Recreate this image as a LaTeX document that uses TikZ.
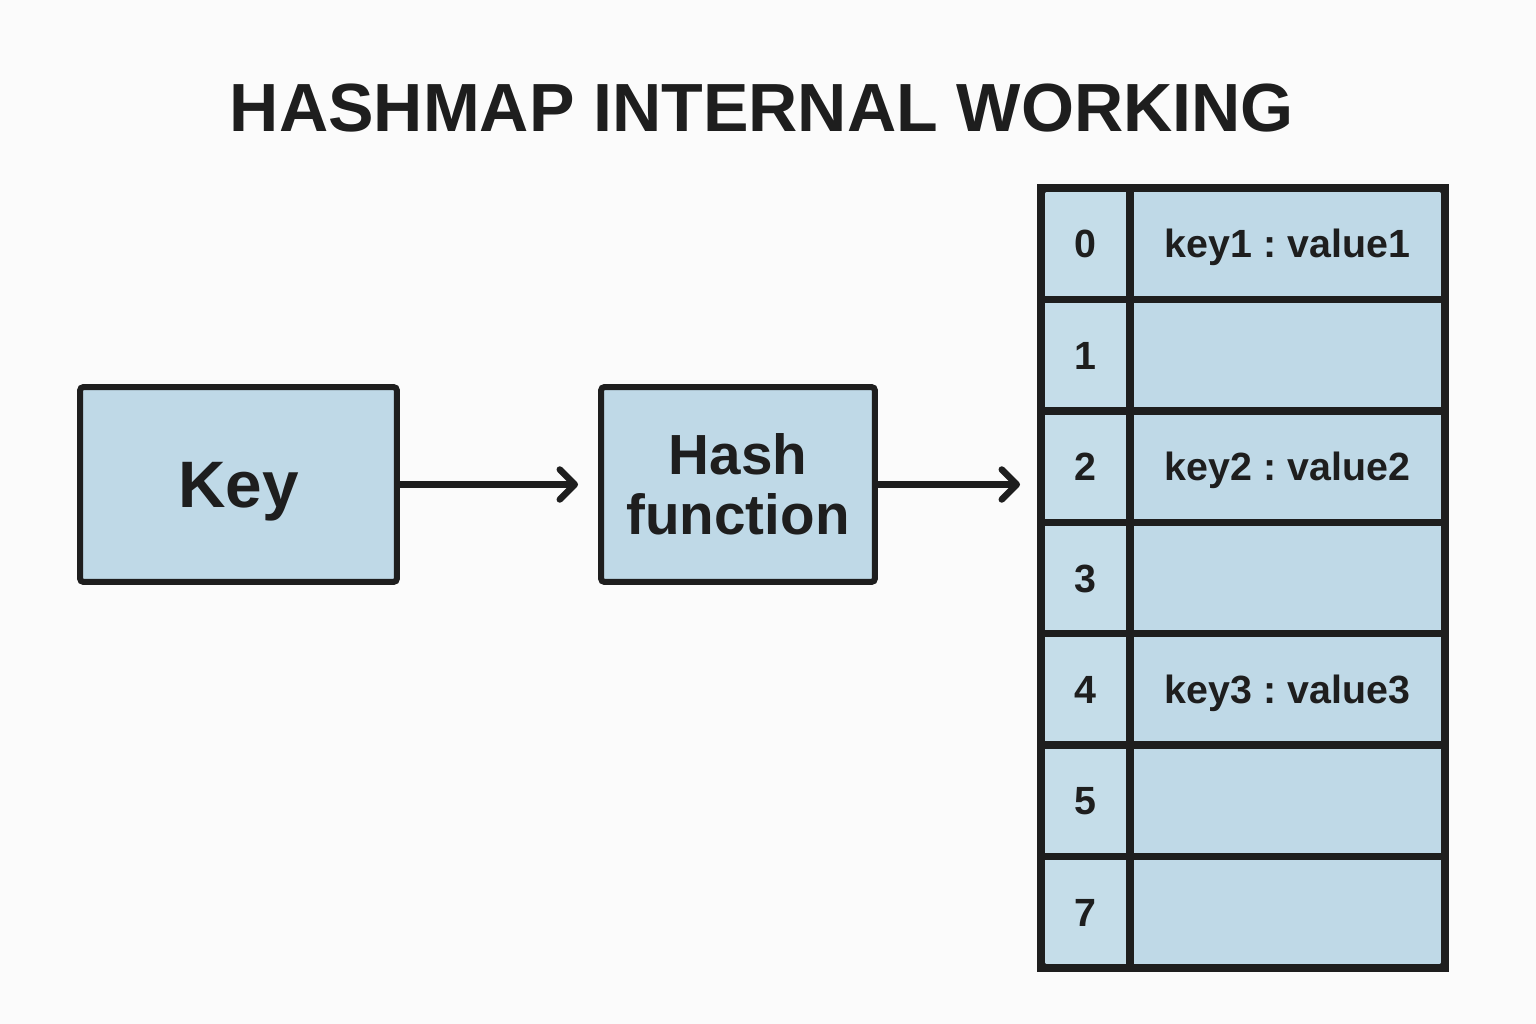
\documentclass[tikz,border=0pt]{standalone}
\usepackage{fontspec}
\setmainfont{Liberation Sans}
\usetikzlibrary{arrows.meta,positioning}
\frenchspacing

\definecolor{ink}{RGB}{30,30,30}
\definecolor{paper}{RGB}{251,251,251}
\definecolor{cellblue}{RGB}{191,217,231}
\definecolor{idxblue}{RGB}{197,221,233}

\begin{document}
\begin{tikzpicture}[x=0.02cm,y=-0.02cm,>={Straight Barb[length=0.3cm,width=0.6cm,round]},
  box/.style={draw=ink,fill=cellblue,line width=0.12cm,rounded corners=2pt,inner sep=0pt,outer sep=0pt,minimum height=3.9cm,text=ink,font=\bfseries},
  slot/.style={draw=ink,fill=cellblue,line width=0.15cm,inner sep=0pt,outer sep=0pt,minimum height=2.2286cm,text height=16pt,text depth=0pt,text=ink,font=\fontsize{22.4}{26}\bfseries},
  flow/.style={->,draw=ink,line width=0.13cm}]
  % background
  \fill[paper] (0,0) rectangle (1536,1024);
  % title
  \node[anchor=base,font=\fontsize{38.8}{44}\bfseries,text=ink] (title) at (762,132) {HASHMAP INTERNAL WORKING};
  % key and hash function
  \node[box,minimum width=6.34cm,text height=26pt,text depth=0pt,font=\fontsize{37.4}{42}\bfseries] (key) at (238.5,484.5) {Key};
  \node[box,minimum width=5.48cm,align=center,font=\fontsize{32.2}{34}\bfseries] (hash) at (738,484.5) {Hash\\function};
  % buckets
  \foreach \idx/\val [count=\r from 0] in {0/key1 : value1,1/{},2/key2 : value2,3/{},4/key3 : value3,5/{},7/{}}
  {
    \node[slot,fill=idxblue,minimum width=1.78cm] (i\r) at (1085.5,{188+111.43*(\r+0.5)}) {\idx};
    \node[slot,minimum width=6.3cm] (v\r) at (1287.5,{188+111.43*(\r+0.5)}) {\val};
  }
  \draw[draw=ink,line width=0.15cm,rounded corners=3pt] (i0.north west) rectangle (v6.south east);
  % arrows
  \draw[flow,shorten >=0.46cm] (key) -- (hash);
  \draw[flow,shorten >=0.42cm] (hash.east) -- (hash.east -| i0.west);
\end{tikzpicture}
\end{document}
